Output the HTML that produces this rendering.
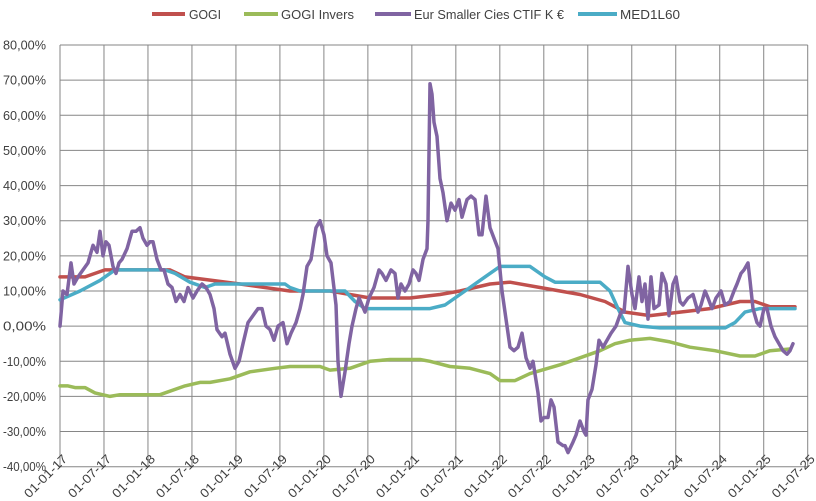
<!DOCTYPE html>
<html><head><meta charset="utf-8"><style>
html,body{margin:0;padding:0;background:#fff;}
svg{display:block;font-family:"Liberation Sans",sans-serif;}
</style></head><body>
<svg id="c" width="816" height="501" viewBox="0 0 816 501" xmlns="http://www.w3.org/2000/svg">
<rect width="816" height="501" fill="#fff"/>
<g id="grid"></g>
<g id="series" fill="none" stroke-width="3.5" stroke-linejoin="round" stroke-linecap="round"></g>
<g font-size="13" fill="#404040">
<rect x="152" y="12" width="33" height="4" fill="#c0504d"/><text x="189" y="19" textLength="32" lengthAdjust="spacingAndGlyphs">GOGI</text>
<rect x="244" y="12" width="34" height="4" fill="#9bbb59"/><text x="281" y="19" textLength="73" lengthAdjust="spacingAndGlyphs">GOGI Invers</text>
<rect x="375" y="12" width="36" height="4" fill="#8064a2"/><text x="414" y="19" textLength="150" lengthAdjust="spacingAndGlyphs">Eur Smaller Cies CTIF K €</text>
<rect x="578" y="12" width="39" height="4" fill="#4bacc6"/><text x="620" y="19" textLength="60" lengthAdjust="spacingAndGlyphs">MED1L60</text>
</g>
<g id="labels" font-size="12.5" fill="#404040"></g>
</svg>
<script>
var NS="http://www.w3.org/2000/svg";
function el(n,a,p,t){var e=document.createElementNS(NS,n);for(var k in a)e.setAttribute(k,a[k]);if(t)e.textContent=t;document.getElementById(p).appendChild(e);return e;}
var L=60,R=807.7,T=45,B=466.7,dy=(B-T)/12,dx=(R-L)/17;
function Y(v){return T+(80-v)*dy/10;}
for(var i=0;i<=12;i++){var y=T+i*dy;el("line",{x1:L,x2:R,y1:y,y2:y,stroke:"#868686","stroke-width":1},"grid");
var v=80-i*10;el("text",{x:46,y:y+4.5,"text-anchor":"end",textLength:43,lengthAdjust:"spacingAndGlyphs"},"labels",(v).toFixed(0)+",00%");}
var dates=["01-01-17","01-07-17","01-01-18","01-07-18","01-01-19","01-07-19","01-01-20","01-07-20","01-01-21","01-07-21","01-01-22","01-07-22","01-01-23","01-07-23","01-01-24","01-07-24","01-01-25","01-07-25"];
for(var j=0;j<=17;j++){var x=L+j*dx;el("line",{x1:x,x2:x,y1:T,y2:B,stroke:"#868686","stroke-width":1},"grid");
el("text",{x:0,y:0,"text-anchor":"end",textLength:55,lengthAdjust:"spacingAndGlyphs",transform:"translate("+(x+8)+","+(B-7)+") rotate(-45)"},"labels",dates[j]);}
function line(d,c){var p=[];for(var i=0;i<d.length;i+=2)p.push(d[i]+","+Y(d[i+1]).toFixed(1));el("polyline",{points:p.join(" "),stroke:c},"series");}
line([60,14,85,14,105,16,120,16,170,16,185,14,240,12,290,10,330,10,370,8,410,8,440,9,460,10,490,12,510,12.5,540,11,580,9,605,7,625,4,650,3,680,4,710,5,740,7,755,7,770,5.5,795,5.5],"#c0504d");
line([60,-17,68,-17,75,-17.5,85,-17.5,95,-19,110,-20,120,-19.5,160,-19.5,185,-17,200,-16,210,-16,230,-15,250,-13,275,-12,290,-11.5,320,-11.5,330,-12.5,350,-12,370,-10,390,-9.5,420,-9.5,430,-10,450,-11.5,470,-12,490,-13.5,500,-15.5,515,-15.5,530,-13.5,560,-11,580,-9,600,-7,615,-5,630,-4,650,-3.5,670,-4.5,690,-6,715,-7,740,-8.5,755,-8.5,770,-7,790,-6.5],"#9bbb59");
line([60,7.5,80,10,100,13,115,16,165,16,175,15,190,12.5,205,11,215,12,285,12,290,11,300,10,345,10,355,7,365,5,430,5,445,6,465,10,485,14,500,17,530,17,545,14,555,12.5,600,12.5,610,10,618,5,625,1,640,0,660,-0.5,725,-0.5,735,1,745,4,760,5,795,5],"#4bacc6");
line([60,0,63,10,67,9,71,18,74,12,78,14,83,16,88,18,93,23,97,21,100,27,103,20,106,24,109,23,113,17,116,15,119,18,122,19,127,22,132,27,136,27,140,28,143,25,147,23,150,24,153,24,157,19,161,16,164,16,168,12,172,11,176,7,180,9,184,7,188,11,193,8,197,10,202,12,206,11,210,9,214,5,217,-1,222,-3,225,-2,230,-8,235,-12,239,-10,243,-5,248,1,253,3,258,5,262,5,266,0,270,-1,274,-4,278,0,283,1,287,-5,291,-2,296,1,300,5,303,9,307,17,311,19,316,28,320,30,324,26,327,20,331,18,336,6,338,-10,341,-20,345,-13,349,-5,352,0,356,5,359,8,362,6,365,4,369,8,374,11,379,16,382,15,386,13,391,16,395,15,398,8,401,12,405,10,409,12,413,16,416,15,419,13,423,19,427,22,428,30,430,69,432,66,434,58,437,54,440,42,443,38,447,30,451,35,455,33,459,36,462,31,467,36,471,37,475,36,479,26,482,26,486,37,490,28,494,25,498,22,502,10,506,2,510,-6,514,-7,518,-6,522,-2,526,-9,530,-12,533,-10,538,-19,541,-27,544,-26,548,-26,551,-21,554,-23,558,-33,563,-34,565,-34,568,-36,573,-33,576,-31,580,-27,584,-30,586,-31,588,-21,592,-18,596,-11,599,-4,603,-6,607,-4,611,-2,616,0,621,4,624,4,628,17,632,9,635,5,639,14,642,7,645,12,648,2,651,14,654,5,659,6,662,15,666,12,669,3,673,12,676,14,680,7,683,6,688,8,693,9,698,4,701,6,705,10,708,8,712,5,716,8,721,10,725,6,730,7,734,10,737,12,741,15,744,16,748,18,750,13,753,5,757,1,760,0,764,5,767,5,771,0,775,-3,779,-5,783,-7,787,-8,790,-7,793,-5],"#8064a2");
</script>
</body></html>
